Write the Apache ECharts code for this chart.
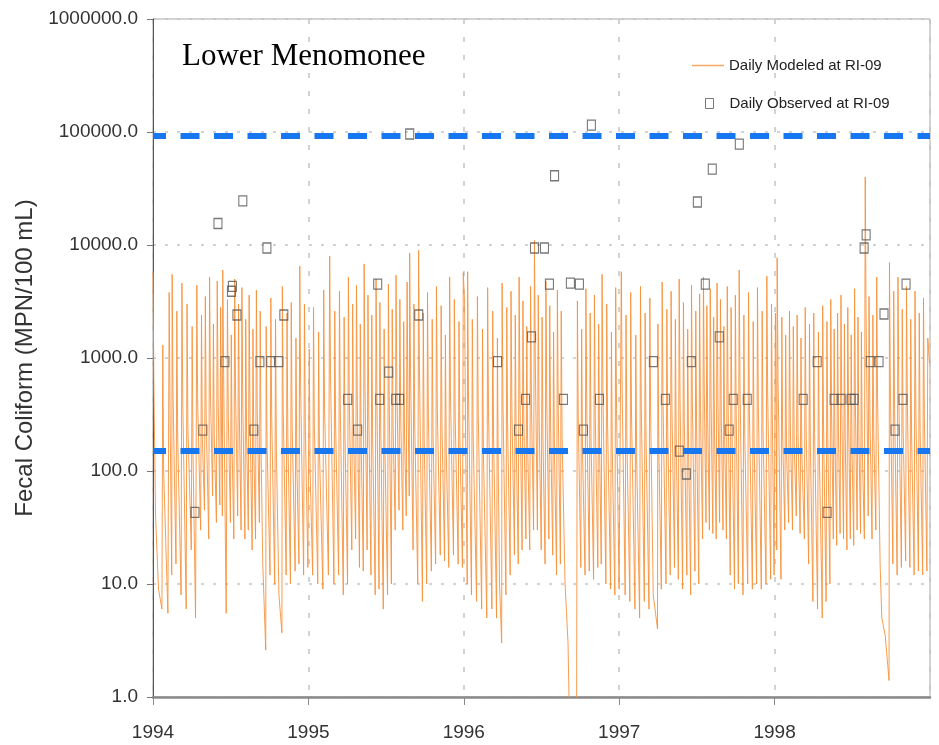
<!DOCTYPE html>
<html>
<head>
<meta charset="utf-8">
<script src="https://cdn.jsdelivr.net/npm/echarts@6/dist/echarts.min.js"></script>
<style>html,body{margin:0;padding:0;background:#fff;}#chart{width:939px;height:745px;}</style>
</head>
<body>
<div id="chart"></div>
<script>
// ---- Data ----
const chartTitle = 'Lower Menomonee';
const yAxisTitle = 'Fecal Coliform (MPN/100 mL)';
const seriesModeledName = 'Daily Modeled at RI-09';
const seriesObservedName = 'Daily Observed at RI-09';
const years = [1994, 1995, 1996, 1997, 1998];
const xTickLabels = ['1994', '1995', '1996', '1997', '1998'];
const yTickValues = [1, 10, 100, 1000, 10000, 100000, 1000000];

// modeled: [day of year, value]
const modeled1994 = [[0,5800],[2,600],[6,40],[13,9],[21,6],[23,1300],[25,100],[35,5.5],[38,3800],[40,350],[44,12],[45,5500],[47,500],[54,15],[56,2600],[58,200],[66,8],[68,4600],[70,400],[78,6],[80,3000],[82,250],[90,20],[92,1900],[94,150],[100,5],[103,4400],[105,400],[112,30],[114,2400],[116,200],[121,45],[123,3500],[125,300],[131,25],[133,5200],[135,500],[140,60],[142,2000],[144,200],[149,35],[151,4800],[153,450],[157,50],[159,2800],[161,250],[163,40],[164,6000],[166,700],[172,5.5],[175,3300],[177,300],[182,35],[184,1600],[186,150],[190,25],[192,5000],[194,500],[199,40],[201,3000],[203,300],[207,30],[209,4200],[211,400],[216,25],[218,2200],[220,200],[224,30],[226,3600],[228,300],[233,20],[235,1800],[237,150],[241,25],[243,4000],[245,350],[250,35],[252,2600],[254,150],[258,15],[265,2.6],[266,1900],[268,180],[275,12],[277,3400],[279,300],[286,10],[288,2200],[290,150],[296,8],[303,3.7],[304,4300],[306,350],[313,12],[315,2500],[317,200],[323,10],[325,3100],[327,250],[334,13],[336,1500],[338,120],[343,15],[345,6500],[347,550],[354,12],[356,3000],[358,250],[364,14]];
const modeled1995 = [[2,1200],[4,100],[10,12],[12,2800],[14,250],[22,10],[24,1700],[26,150],[34,9],[36,4000],[38,350],[47,12],[50,8000],[52,700],[60,10],[62,2600],[64,250],[71,12],[73,3900],[75,350],[82,8],[84,2300],[86,200],[92,10],[94,5200],[96,450],[102,20],[104,3000],[106,250],[111,25],[113,4400],[115,400],[120,14],[122,2000],[124,180],[129,13],[131,6800],[133,600],[138,20],[140,3600],[142,300],[147,12],[149,2400],[151,200],[157,8],[159,5000],[161,450],[166,9],[168,3100],[170,250],[176,6],[178,1800],[180,150],[186,8],[188,4500],[190,400],[195,10],[197,2700],[199,250],[204,30],[206,5400],[208,500],[213,45],[215,3300],[217,300],[222,30],[224,2100],[226,200],[230,40],[232,4700],[234,400],[237,60],[238,8500],[240,800],[246,20],[248,3000],[250,250],[257,10],[259,9000],[261,800],[268,7],[270,2500],[272,200],[278,10],[280,3800],[282,300],[289,13],[291,2200],[293,200],[299,15],[301,4300],[303,350],[310,18],[312,2900],[314,250],[320,16],[322,1600],[324,150],[330,14],[332,5200],[334,450],[341,18],[343,3300],[345,300],[352,15],[354,2100],[356,200],[362,14],[364,5700]];
const modeled1996 = [[2,3000],[4,250],[8,10],[9,5800],[11,500],[18,8],[20,2200],[22,200],[30,7],[32,3500],[34,300],[42,6],[44,1800],[46,150],[54,5],[56,4200],[58,350],[66,6],[68,2600],[70,200],[77,5],[79,1500],[81,100],[84,10],[89,3],[90,4600],[92,400],[99,8],[101,2800],[103,250],[109,12],[111,3900],[113,350],[119,18],[121,2400],[123,200],[128,15],[130,5200],[132,450],[137,20],[139,3200],[141,300],[146,25],[148,1900],[150,180],[155,20],[157,4300],[159,400],[164,30],[166,11000],[168,1000],[173,30],[175,3600],[177,300],[182,20],[184,2300],[186,200],[191,15],[193,4800],[195,400],[200,25],[202,2900],[204,250],[209,18],[211,1700],[213,150],[218,12],[220,4000],[222,350],[227,15],[229,2600],[231,200],[238,10],[245,3],[249,0.4],[265,0.4],[267,3200],[269,300],[275,14],[277,1800],[279,150],[285,12],[287,4100],[289,350],[295,13],[297,2500],[299,200],[305,11],[307,3600],[309,300],[315,14],[317,2000],[319,180],[323,15],[325,5500],[327,500],[334,10],[336,3000],[338,250],[345,9],[347,1700],[349,150],[355,8],[357,4200],[359,350],[365,9]];
const modeled1997 = [[5,5800],[7,500],[14,8],[16,2400],[18,200],[25,7],[27,3800],[29,300],[37,6],[39,1600],[41,130],[48,5],[50,4300],[52,350],[59,7],[61,2500],[63,200],[70,6],[72,3400],[74,300],[80,8],[90,4],[91,2000],[93,170],[99,9],[101,4700],[103,400],[110,10],[112,2700],[114,230],[120,12],[122,3900],[124,350],[130,14],[132,2200],[134,200],[139,11],[141,5000],[143,450],[149,9],[151,3100],[153,280],[159,12],[161,1800],[163,160],[168,8],[170,4400],[172,400],[178,13],[180,2600],[182,230],[187,10],[189,3700],[191,350],[196,25],[198,5200],[200,500],[204,35],[206,2900],[208,280],[212,30],[214,4100],[216,400],[220,28],[222,2300],[224,220],[228,25],[230,4600],[232,450],[236,35],[238,3300],[240,300],[244,30],[246,1900],[248,180],[252,25],[254,4300],[256,400],[261,12],[263,2800],[265,250],[271,9],[273,3600],[275,330],[280,10],[282,6000],[284,550],[291,8],[293,2400],[295,220],[302,10],[304,3800],[306,350],[313,9],[315,2100],[317,190],[323,10],[325,4200],[327,380],[334,9],[336,2600],[338,240],[345,10],[347,5300],[349,480],[356,11],[358,3000],[360,280],[364,12]];
const modeled1998 = [[2,2500],[4,200],[5,20],[6,7700],[8,700],[15,11],[17,2300],[19,200],[24,30],[26,1600],[28,150],[33,35],[35,2600],[37,250],[42,30],[44,1900],[46,180],[51,40],[53,2400],[55,220],[60,28],[62,1500],[64,140],[70,25],[72,2800],[74,250],[80,15],[82,2000],[84,180],[90,7],[92,2500],[94,220],[101,6],[103,1700],[105,150],[112,5],[113,2900],[115,260],[121,7],[123,2100],[125,200],[130,10],[132,3300],[134,300],[138,25],[140,1800],[142,170],[146,22],[148,2500],[150,230],[154,28],[156,3600],[158,330],[162,25],[164,2000],[166,190],[170,20],[172,2800],[174,260],[178,25],[180,1600],[182,150],[186,22],[188,4100],[190,380],[194,30],[196,2300],[198,210],[202,28],[204,1700],[206,160],[211,25],[213,40000],[215,2500],[220,40],[222,3500],[224,320],[229,25],[231,2400],[233,220],[238,30],[240,5200],[242,450],[248,15],[252,5],[260,3.5],[269,1.4],[270,7000],[272,600],[278,15],[280,3900],[282,350],[288,12],[290,5200],[292,450],[298,14],[300,2700],[302,250],[308,16],[310,4300],[312,400],[318,14],[320,2200],[322,200],[328,12],[330,3900],[332,350],[338,13],[340,2500],[342,230],[348,12],[350,3400],[352,300],[358,13],[360,1500],[362,1500],[364,900]];
const modeledByYear = [modeled1994, modeled1995, modeled1996, modeled1997, modeled1998];

// observed samples: decimal year, value
const observedYear = [1994.27,1994.321,1994.418,1994.463,1994.505,1994.511,1994.540,1994.578,1994.649,1994.688,1994.733,1994.758,1994.810,1994.842,
  1995.253,1995.317,1995.446,1995.459,1995.517,1995.562,1995.587,1995.652,1995.710,
  1996.217,1996.352,1996.397,1996.436,1996.455,1996.519,1996.551,1996.584,1996.641,1996.686,1996.744,1996.770,1996.821,1996.873,
  1997.220,1997.297,1997.387,1997.432,1997.464,1997.503,1997.554,1997.599,1997.644,1997.708,1997.734,1997.773,1997.824,
  1998.184,1998.274,1998.338,1998.383,1998.428,1998.492,1998.512,1998.576,1998.589,1998.615,1998.672,1998.704,1998.775,1998.826,1998.846];
const observedValue = [43,230,15500,930,3900,4300,2400,24600,230,930,9400,930,930,2400,
  430,230,4500,430,750,430,430,96000,2400,
  930,230,430,1540,9400,9400,4500,41000,430,4600,4500,230,115000,430,
  930,430,150,94,930,24000,4500,47000,1540,230,430,78000,430,
  430,930,43,430,430,430,430,9400,12300,930,930,2450,230,430,4500];

const upperLimit = 93000;
const lowerLimit = 150;

// ---- Build series data ----
const modeledData = [];
modeledByYear.forEach((arr, i) => arr.forEach(p => modeledData.push([years[i] + p[0] / 365.25, p[1]])));
const observedData = observedYear.map((x, i) => [x, observedValue[i]]);
const xMin = years[0], xMax = years[years.length - 1] + 1;

const chart = echarts.init(document.getElementById('chart'), null, {renderer: 'canvas'});
const font = 'Liberation Sans, Arial, Helvetica, sans-serif';
const lineColor = '#f7923c';
const limitStyle = {color: '#1677f0', width: 6, type: [19, 14.5], dashOffset: 6};

chart.setOption({
  animation: false,
  backgroundColor: '#ffffff',
  title: {
    text: chartTitle, left: 182, top: 41, padding: 0,
    textStyle: {fontFamily: 'Liberation Serif, Times New Roman, serif', fontSize: 31, fontWeight: 'normal', color: '#000'}
  },
  legend: [
    {
      data: [{name: seriesModeledName, icon: 'rect', itemStyle: {color: lineColor, opacity: 0.8}}],
      left: 692, top: 58, padding: 0, orient: 'vertical',
      itemWidth: 32, itemHeight: 1.5,
      textStyle: {fontFamily: font, fontSize: 15, color: '#222'}
    },
    {
      data: [{name: seriesObservedName, icon: 'rect'}],
      itemStyle: {color: 'rgba(255,255,255,0)', borderColor: '#555', borderWidth: 1},
      left: 705, top: 96, padding: 0, orient: 'vertical',
      itemWidth: 8, itemHeight: 10,
      textStyle: {fontFamily: font, fontSize: 15, color: '#222', padding: [0, 0, 0, 11]}
    }
  ],
  grid: {left: 153, right: 9, top: 19, bottom: 48, show: true, borderColor: '#a8a8a8', borderWidth: 1},
  xAxis: {
    type: 'value', min: xMin, max: xMax, interval: 1,
    axisLine: {show: true, lineStyle: {color: '#8a8a8a', width: 2.5}},
    axisTick: {show: true, length: 8, lineStyle: {color: '#8a8a8a', width: 1}},
    axisLabel: {
      margin: 26, fontFamily: font, fontSize: 19, color: '#333', showMaxLabel: false,
      formatter: v => { const i = years.indexOf(Math.round(v)); return i >= 0 ? xTickLabels[i] : ''; }
    },
    splitLine: {show: true, lineStyle: {color: '#c4c4c4', width: 1.5, type: [5, 13]}}
  },
  yAxis: {
    type: 'log', logBase: 10, min: yTickValues[0], max: yTickValues[yTickValues.length - 1],
    name: yAxisTitle, nameLocation: 'middle', nameGap: 106, nameRotate: 90,
    nameTextStyle: {fontFamily: font, fontSize: 24, color: '#333'},
    axisLine: {show: true, lineStyle: {color: '#555', width: 1}},
    axisTick: {show: true, length: 6, lineStyle: {color: '#777'}},
    axisLabel: {margin: 15, fontFamily: font, fontSize: 19, color: '#333', formatter: v => Number(v).toFixed(1)},
    splitLine: {show: true, lineStyle: {color: '#c4c4c4', width: 1.5, type: [3, 9]}}
  },
  series: [
    {
      name: seriesModeledName, type: 'line', data: modeledData, showSymbol: false, symbol: 'none',
      lineStyle: {color: lineColor, width: 1, opacity: 0.9}, itemStyle: {color: lineColor},
      silent: true, z: 2, clip: true
    },
    {
      name: 'limits', type: 'line', data: [], silent: true, z: 3,
      markLine: {
        silent: true, symbol: 'none', label: {show: false},
        lineStyle: limitStyle,
        data: [{yAxis: upperLimit}, {yAxis: lowerLimit}]
      }
    },
    {
      name: seriesObservedName, type: 'scatter', data: observedData, symbol: 'rect', symbolSize: [8, 10],
      itemStyle: {color: 'rgba(255,255,255,0)', borderColor: '#555', borderWidth: 1.2},
      silent: true, z: 4
    }
  ]
});
</script>
</body>
</html>
